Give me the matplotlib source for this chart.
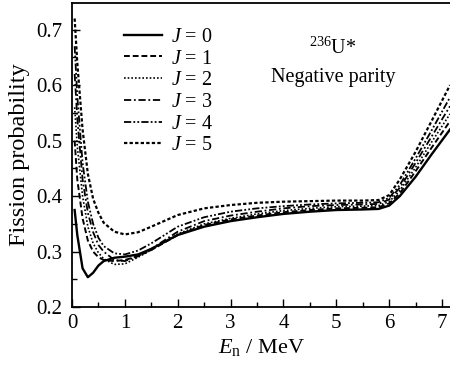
import matplotlib
matplotlib.use("Agg")
import matplotlib.pyplot as plt
from matplotlib.ticker import MultipleLocator, FormatStrFormatter

plt.rcParams['font.family'] = ['Liberation Serif', 'DejaVu Serif']
plt.rcParams['mathtext.fontset'] = 'custom'
plt.rcParams['mathtext.rm'] = 'Liberation Serif'
plt.rcParams['mathtext.it'] = 'Liberation Serif:italic'

energy = [0.05, 0.1, 0.2, 0.3, 0.4, 0.5, 0.6, 0.8, 1.0, 1.25, 1.5, 2.0, 2.5,
          3.0, 3.5, 4.0, 4.5, 5.0, 5.5, 5.8, 6.0, 6.2, 6.5, 6.8, 7.15]

p_j0 = [0.375, 0.33, 0.27, 0.254, 0.262, 0.275, 0.283, 0.289, 0.291, 0.295, 0.305, 0.33, 0.345,
        0.355, 0.362, 0.368, 0.372, 0.375, 0.376, 0.377, 0.383, 0.40, 0.435, 0.475, 0.52]
p_j1 = [0.50, 0.43, 0.36, 0.32, 0.30, 0.29, 0.285, 0.283, 0.285, 0.292, 0.303, 0.33, 0.348,
        0.358, 0.365, 0.371, 0.375, 0.378, 0.379, 0.38, 0.387, 0.405, 0.445, 0.487, 0.535]
p_j2 = [0.56, 0.49, 0.40, 0.345, 0.315, 0.298, 0.287, 0.277, 0.278, 0.29, 0.303, 0.332, 0.35,
        0.36, 0.368, 0.374, 0.378, 0.381, 0.382, 0.383, 0.39, 0.41, 0.452, 0.497, 0.548]
p_j3 = [0.62, 0.54, 0.43, 0.37, 0.335, 0.312, 0.30, 0.285, 0.283, 0.292, 0.305, 0.336, 0.355,
        0.365, 0.372, 0.378, 0.382, 0.384, 0.385, 0.386, 0.394, 0.415, 0.46, 0.507, 0.562]
p_j4 = [0.67, 0.58, 0.46, 0.39, 0.35, 0.325, 0.31, 0.297, 0.295, 0.302, 0.315, 0.345, 0.362,
        0.372, 0.378, 0.382, 0.385, 0.387, 0.388, 0.389, 0.397, 0.42, 0.468, 0.518, 0.578]
p_j5 = [0.72, 0.64, 0.52, 0.44, 0.395, 0.37, 0.352, 0.336, 0.331, 0.335, 0.345, 0.366, 0.378,
        0.384, 0.388, 0.39, 0.391, 0.392, 0.392, 0.393, 0.402, 0.43, 0.48, 0.535, 0.60]

series = [p_j0, p_j1, p_j2, p_j3, p_j4, p_j5]
labels = [r'$J$ = 0', r'$J$ = 1', r'$J$ = 2', r'$J$ = 3', r'$J$ = 4', r'$J$ = 5']
styles = ['-', (0, (3, 1.5)), (0, (1, 1.2)), (0, (4, 1.5, 1, 1.5)),
          (0, (4, 1.2, 1, 1.2, 1, 1.2)), (0, (1.5, 1))]
widths = [1.7, 1.4, 1.2, 1.3, 1.3, 1.6]

fig = plt.figure(figsize=(4.5, 3.67), dpi=100)
ax = fig.add_axes([0.16, 0.163, 0.84, 0.829])

for y, lab, ls, lw in zip(series, labels, styles, widths):
    ax.plot(energy, y, color='black', linestyle=ls, linewidth=lw, label=lab)

ax.set_xlim(0, 7.15)
ax.set_ylim(0.2, 0.748)
ax.xaxis.set_major_locator(MultipleLocator(1))
ax.xaxis.set_minor_locator(MultipleLocator(0.5))
ax.yaxis.set_major_locator(MultipleLocator(0.1))
ax.yaxis.set_minor_locator(MultipleLocator(0.05))
ax.yaxis.set_major_formatter(FormatStrFormatter('%.1f'))
ax.tick_params(which='both', direction='in', top=False, right=False, labelsize=15)
ax.tick_params(which='major', length=6, width=1)
ax.tick_params(which='minor', length=3.5, width=1)
ax.tick_params(axis='x', pad=5)
ax.tick_params(axis='y', pad=7)
ax.spines['right'].set_visible(False)
for s in ['left', 'bottom', 'top']:
    ax.spines[s].set_linewidth(1.3)

ax.set_ylabel('Fission probability', fontsize=17.5)
ax.yaxis.set_label_coords(-0.112, 0.5)
ax.set_xlabel(r'$E_{\rm n}$ / MeV', fontsize=16, labelpad=3)

leg = ax.legend(loc='upper left', bbox_to_anchor=(0.115, 0.945), frameon=False,
                fontsize=14.5, handlelength=1.9, labelspacing=0.13, handletextpad=0.45,
                borderaxespad=0.0)

ax.text(0.69, 0.85, r'$^{236}$U*', transform=ax.transAxes, fontsize=14.5, ha='center', va='center')
ax.text(0.69, 0.755, 'Negative parity', transform=ax.transAxes, fontsize=14.5, ha='center', va='center')

fig.savefig('out.png', dpi=100)
